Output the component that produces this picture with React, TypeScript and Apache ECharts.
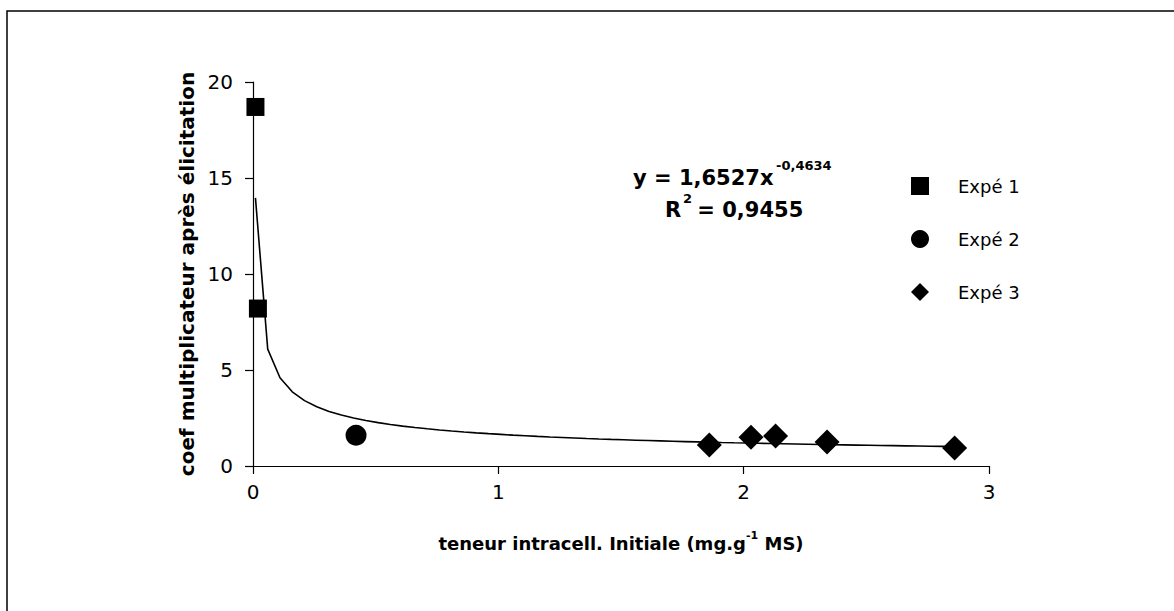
import React, { useEffect, useRef } from "react";
import * as echarts from "echarts";

// ---- data ----
const seriesNames = ["Expé 1", "Expé 2", "Expé 3"];
const expe1X = [0.01, 0.02];
const expe1Y = [18.7, 8.2];
const expe2X = [0.42];
const expe2Y = [1.6];
const expe3X = [1.86, 2.03, 2.13, 2.34, 2.86];
const expe3Y = [1.1, 1.5, 1.56, 1.25, 0.94];

const xAxisMin = 0;
const xAxisMax = 3;
const xAxisInterval = 1;
const yAxisMin = 0;
const yAxisMax = 20;
const yAxisInterval = 5;

// power trendline shown on the chart: y = 1,6527 x^-0,4634 ; R² = 0,9455
const trendCoefA = 1.6527;
const trendExpB = -0.4634;
const trendXStart = 0.01;
const trendXEnd = 2.86;
const trendStep = 0.05;
const eqMain = "y = 1,6527x";
const eqSup = "-0,4634";
const r2Label = "R";
const r2Sup = "2";
const r2Value = " = 0,9455";

const xTitleMain = "teneur intracell. Initiale (mg.g";
const xTitleSup = "-1";
const xTitleEnd = " MS)";
const yTitle = "coef multiplicateur après élicitation";

const FONT = "'DejaVu Sans', 'Liberation Sans', sans-serif";

function pairs(xs: number[], ys: number[]) {
  return xs.map((x, i) => [x, ys[i]]);
}

function trendPoints() {
  const pts: number[][] = [];
  const n = Math.round((trendXEnd - trendXStart) / trendStep);
  for (let i = 0; i <= n; i++) {
    const x = trendXStart + i * trendStep;
    pts.push([x, trendCoefA * Math.pow(x, trendExpB)]);
  }
  return pts;
}

export default function App() {
  const ref = useRef<HTMLDivElement>(null);
  useEffect(() => {
    if (!ref.current) return;
    const chart = echarts.init(ref.current, null, { renderer: "svg" });
    const axisCommon = {
      axisLine: { show: true, lineStyle: { color: "#000", width: 1.2 } },
      axisTick: { show: true, inside: false, length: 8, lineStyle: { color: "#000", width: 1.2 } },
      splitLine: { show: false },
    };
    const markerStyle = { color: "#000", opacity: 1, borderWidth: 0 };
    const option: any = {
      animation: false,
      backgroundColor: "#fff",
      textStyle: { fontFamily: FONT },
      grid: { left: 253, right: 185, top: 82, bottom: 145, containLabel: false },
      legend: {
        orient: "vertical",
        left: 906,
        top: 172,
        itemWidth: 18,
        itemHeight: 18,
        itemGap: 35,
        data: seriesNames,
        itemStyle: { opacity: 1 },
        textStyle: { fontFamily: FONT, fontSize: 18, color: "#000", padding: [0, 0, 0, 24] },
      },
      xAxis: {
        type: "value",
        min: xAxisMin,
        max: xAxisMax,
        interval: xAxisInterval,
        ...axisCommon,
        axisLabel: { color: "#000", fontSize: 20, fontFamily: FONT, margin: 16 },
        name: `{m|${xTitleMain}}{s|${xTitleSup}}{m|${xTitleEnd}}`,
        nameLocation: "middle",
        nameGap: 64,
        nameTextStyle: {
          rich: {
            m: { fontFamily: FONT, fontSize: 18, fontWeight: "bold", color: "#000", lineHeight: 22, verticalAlign: "bottom" },
            s: { fontFamily: FONT, fontSize: 11, fontWeight: "bold", color: "#000", lineHeight: 22, verticalAlign: "top", padding: [0, 0, 8, 0] },
          },
        },
      },
      yAxis: {
        type: "value",
        min: yAxisMin,
        max: yAxisMax,
        interval: yAxisInterval,
        ...axisCommon,
        axisLabel: { color: "#000", fontSize: 20, fontFamily: FONT, margin: 20 },
        name: yTitle,
        nameLocation: "middle",
        nameGap: 56,
        nameTextStyle: { fontFamily: FONT, fontSize: 20, fontWeight: "bold", color: "#000" },
      },
      graphic: [
        {
          type: "rect",
          silent: true,
          shape: { x: 7, y: 11, width: 1400, height: 900 },
          style: { fill: "none", stroke: "#000", lineWidth: 1.5 },
        },
        {
          type: "text",
          x: 633,
          y: 178,
          style: { text: eqMain, font: `bold 21px ${FONT}`, fill: "#000", verticalAlign: "middle", align: "left" },
        },
        {
          type: "text",
          x: 776,
          y: 165,
          style: { text: eqSup, font: `bold 13px ${FONT}`, fill: "#000", verticalAlign: "middle", align: "left" },
        },
        {
          type: "text",
          x: 665,
          y: 210,
          style: { text: r2Label, font: `bold 21px ${FONT}`, fill: "#000", verticalAlign: "middle", align: "left" },
        },
        {
          type: "text",
          x: 683,
          y: 198,
          style: { text: r2Sup, font: `bold 13px ${FONT}`, fill: "#000", verticalAlign: "middle", align: "left" },
        },
        {
          type: "text",
          x: 690,
          y: 210,
          style: { text: r2Value, font: `bold 21px ${FONT}`, fill: "#000", verticalAlign: "middle", align: "left" },
        },
      ],
      series: [
        {
          name: "trend",
          type: "line",
          data: trendPoints(),
          showSymbol: false,
          symbol: "none",
          lineStyle: { color: "#000", width: 1.6 },
          z: 1,
          silent: true,
        },
        {
          name: seriesNames[0],
          type: "scatter",
          data: pairs(expe1X, expe1Y),
          symbol: "rect",
          symbolSize: 18,
          itemStyle: markerStyle,
          z: 3,
        },
        {
          name: seriesNames[1],
          type: "scatter",
          data: pairs(expe2X, expe2Y),
          symbol: "circle",
          symbolSize: 21,
          itemStyle: markerStyle,
          z: 3,
        },
        {
          name: seriesNames[2],
          type: "scatter",
          data: pairs(expe3X, expe3Y),
          symbol: "diamond",
          symbolSize: 25,
          itemStyle: markerStyle,
          z: 3,
        },
      ],
    };
    chart.setOption(option);
    return () => chart.dispose();
  }, []);
  return (
    <div
      ref={ref}
      style={{ position: "fixed", left: 0, top: 0, width: 1174, height: 611, background: "#fff" }}
    />
  );
}
